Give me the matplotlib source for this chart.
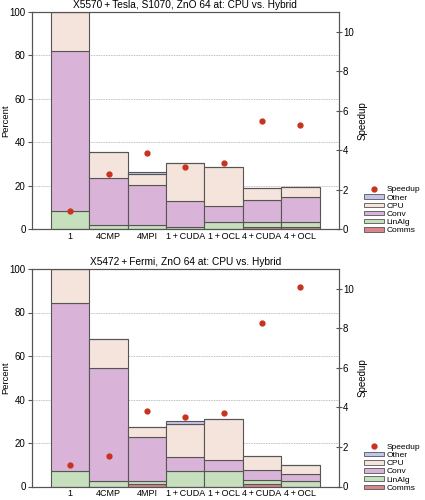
import numpy as np
import matplotlib.pyplot as plt
from matplotlib.patches import Patch
from matplotlib.lines import Line2D

plt.rcParams['font.family'] = ['Liberation Sans', 'DejaVu Sans']

configs = ["1", "4CMP", "4MPI", "1\u2009+\u2009CUDA", "1\u2009+\u2009OCL",
           "4\u2009+\u2009CUDA", "4\u2009+\u2009OCL"]

# top panel: X5570 + Tesla (cumulative tops, percent)
top_comms  = [0.0, 0.0, 0.0, 0.0, 0.0, 0.8, 0.8]
top_linalg = [8.1, 1.8, 1.8, 1.0, 3.4, 3.4, 3.4]
top_conv   = [81.9, 23.6, 20.5, 12.7, 10.7, 13.3, 14.6]
top_cpu    = [100.0, 35.6, 25.2, 30.5, 28.8, 18.7, 19.2]
top_other  = [100.0, 35.6, 26.2, 30.5, 28.8, 18.7, 19.2]
top_speedup = [0.93, 2.77, 3.83, 3.16, 3.36, 5.5, 5.27]

# bottom panel: X5472 + Fermi
bot_comms  = [0.0, 0.0, 1.2, 0.0, 0.0, 1.2, 0.0]
bot_linalg = [7.0, 2.5, 2.5, 7.0, 7.0, 3.1, 2.5]
bot_conv   = [84.4, 54.5, 22.8, 13.5, 12.3, 7.7, 5.8]
bot_cpu    = [100.0, 67.8, 27.3, 28.8, 30.9, 13.9, 9.8]
bot_other  = [100.0, 67.8, 27.3, 30.0, 30.9, 13.9, 9.8]
bot_speedup = [1.07, 1.56, 3.8, 3.53, 3.71, 8.26, 10.07]

titles = ["X5570\u2009+\u2009Tesla, S1070, ZnO 64 at: CPU vs. Hybrid",
          "X5472\u2009+\u2009Fermi, ZnO 64 at: CPU vs. Hybrid"]

COLORS = {"Comms": "#d9868a", "LinAlg": "#c6e0bd", "Conv": "#dab4d8",
          "CPU": "#f4e4dc", "Other": "#c4c4ea"}
EDGE = "#555555"
DOT = "#c8321e"


def panel(ax, comms, linalg, conv, cpu, other, speedup, title):
    x = np.arange(len(configs))
    # cumulative tops -> segments
    layers = [("Comms", np.zeros(7), np.array(comms)),
              ("LinAlg", np.array(comms), np.array(linalg)),
              ("Conv", np.array(linalg), np.array(conv)),
              ("CPU", np.array(conv), np.array(cpu)),
              ("Other", np.array(cpu), np.array(other))]
    for name, lo, hi in layers:
        h = hi - lo
        ax.bar(x, h, bottom=lo, width=1.0, color=COLORS[name],
               edgecolor=EDGE, linewidth=0.8, zorder=2)
    ax.set_xlim(-1.0, 7.0)
    ax.set_ylim(0, 100)
    ax.set_yticks([0, 20, 40, 60, 80, 100])
    ax.set_xticks(x)
    ax.set_xticklabels(configs)
    ax.tick_params(axis="x", length=0, labelsize=6.5, pad=2)
    ax.tick_params(axis="y", direction="out", labelsize=7, length=3, pad=1.5,
                   color="#555555")
    ax.set_ylabel("Percent", fontsize=6.8)
    ax.yaxis.set_label_coords(-0.07, 0.5)
    ax.yaxis.grid(True, color="#aaaaaa", linestyle=(0, (1, 1)), linewidth=0.6)
    ax.set_axisbelow(True)
    ax.set_title(title, fontsize=7.3, pad=3)
    for s in ax.spines.values():
        s.set_color("#555555")
        s.set_linewidth(0.8)

    ax2 = ax.twinx()
    ax2.plot(x, speedup, "o", color=DOT, markersize=3.5, zorder=5)
    ax2.set_ylim(0, 11)
    ax2.set_yticks([0, 2, 4, 6, 8, 10])
    ax2.tick_params(axis="y", direction="inout", labelsize=7, length=4, pad=1,
                    color="#555555")
    ax2.set_ylabel("Speedup", fontsize=7, labelpad=3)
    for s in ax2.spines.values():
        s.set_color("#555555")
        s.set_linewidth(0.8)

    handles = [Line2D([], [], marker="o", linestyle="none", color=DOT, markersize=3.5)]
    for name in ["Other", "CPU", "Conv", "LinAlg", "Comms"]:
        handles.append(Patch(facecolor=COLORS[name], edgecolor=EDGE, linewidth=0.6))
    ax2.legend(handles, ["Speedup", "Other", "CPU", "Conv", "LinAlg", "Comms"],
               loc="lower left", bbox_to_anchor=(1.07, -0.04), frameon=False,
               fontsize=6, handlelength=2.4, handleheight=0.45,
               labelspacing=0.12, handletextpad=0.4, borderaxespad=0)


fig = plt.figure(figsize=(4.25, 5.0), dpi=100)
ax_top = fig.add_axes([0.075, 0.542, 0.722, 0.434])
ax_bot = fig.add_axes([0.075, 0.027, 0.722, 0.435])
panel(ax_top, top_comms, top_linalg, top_conv, top_cpu, top_other, top_speedup, titles[0])
panel(ax_bot, bot_comms, bot_linalg, bot_conv, bot_cpu, bot_other, bot_speedup, titles[1])

fig.savefig("out.png", dpi=100)
